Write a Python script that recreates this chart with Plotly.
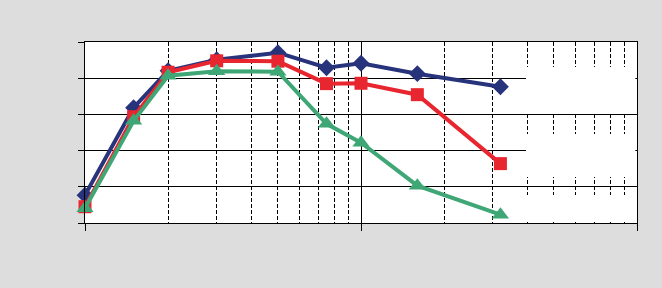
import plotly.graph_objects as go

# x values (log axis) and series values (linear axis 0-100)
x_vals = [1, 1.5, 2, 3, 5, 7.5, 10, 16, 32]
series_a = [15.4, 63.7, 84.1, 90.2, 94.1, 85.8, 88.3, 82.5, 75.3]
series_b = [9.0, 58.7, 83.3, 89.6, 89.4, 77.0, 77.2, 70.9, 32.8]
series_c = [8.2, 56.5, 81.4, 83.9, 83.6, 54.8, 44.4, 20.6, 4.6]

names = ["A", "B", "C"]
colors = ["#27337a", "#e8262f", "#3fa775"]
symbols = ["diamond", "square", "triangle-up"]
sizes = [13, 13, 15]

minor_vals = [2, 3, 4, 5, 6, 7, 8, 9, 20, 30, 40, 50, 60, 70, 80, 90]

fig = go.Figure()
for ys, nm, c, sym, sz in zip([series_a, series_b, series_c], names, colors, symbols, sizes):
    fig.add_trace(go.Scatter(
        x=x_vals, y=ys, name=nm, mode="lines+markers",
        line=dict(color=c, width=4),
        marker=dict(symbol=sym, size=sz, color=c, line=dict(width=0)),
        cliponaxis=False, showlegend=False,
    ))

# white boxes (empty legend-like areas) covering the grid on the right
for y0, y1 in [(0.608, 0.862), (0.254, 0.492), (0.006, 0.155)]:
    fig.add_shape(type="rect", xref="x domain", yref="y domain",
                  x0=0.799, x1=0.997, y0=y0, y1=y1,
                  fillcolor="white", line=dict(width=0), layer="above")

fig.update_layout(
    width=662, height=288,
    margin=dict(l=85, r=25, t=42, b=65),
    paper_bgcolor="#dddddd", plot_bgcolor="white",
    showlegend=False,
)
fig.update_xaxes(
    type="log", range=[0, 2],
    tickmode="array", tickvals=[1, 10, 100],
    showticklabels=False, ticks="outside", ticklen=7, tickcolor="black", tickwidth=1,
    showline=True, linecolor="black", linewidth=1, mirror=True,
    showgrid=True, gridcolor="black", gridwidth=1,
    zeroline=False,
    minor=dict(tickmode="array", tickvals=minor_vals, showgrid=True,
               gridcolor="black", gridwidth=1, griddash="4px,2px", ticks=""),
)
fig.update_yaxes(
    range=[0, 100], dtick=20,
    showticklabels=False, ticks="outside", ticklen=6, tickcolor="black", tickwidth=1,
    showline=True, linecolor="black", linewidth=1, mirror=True,
    showgrid=True, gridcolor="black", gridwidth=1,
    zeroline=False,
)

fig.write_html("out.html")
